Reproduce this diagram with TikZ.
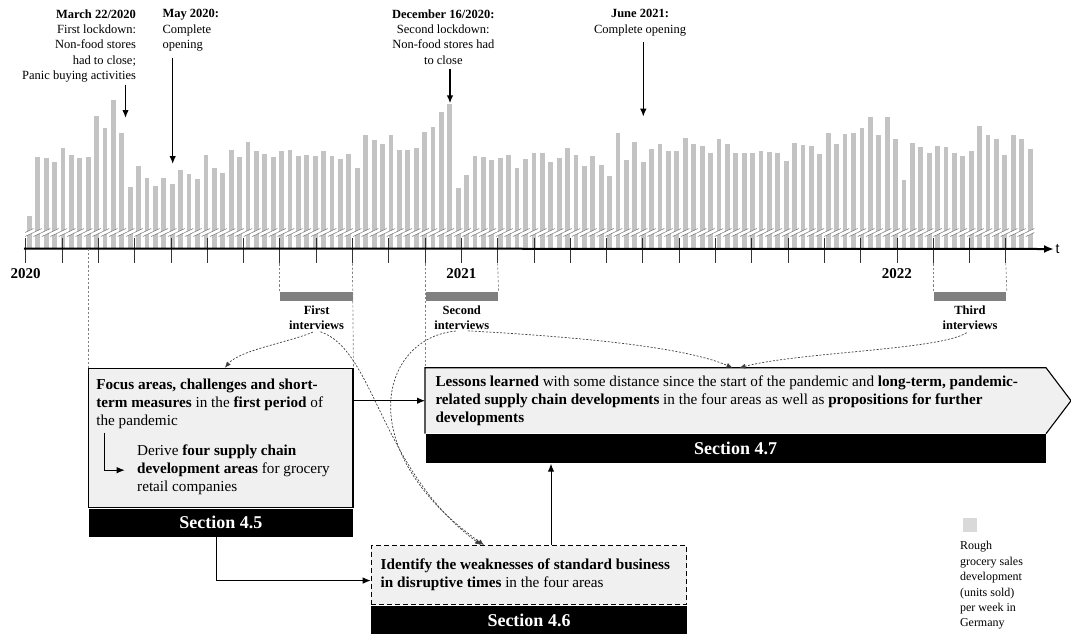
\documentclass[tikz,border=0pt]{standalone}
\usepackage{fontspec}
\setmainfont{Liberation Serif}
\newfontfamily\axisfont{Liberation Sans}
\usetikzlibrary{arrows.meta,positioning}

\definecolor{barGray}{HTML}{C3C3C3}
\definecolor{ivGray}{HTML}{808080}
\definecolor{boxGray}{HTML}{F0F0F0}
\definecolor{keyGray}{HTML}{D9D9D9}

\begin{document}
\begin{tikzpicture}[x=1pt, y=-1pt, >={Latex[length=8pt,width=6.5pt]}, line width=1pt]
\tikzstyle{note}=[inner sep=0pt, font=\fontsize{12.5}{15.3}\selectfont]
\tikzstyle{year}=[inner sep=0pt, font=\fontsize{15}{18}\selectfont\bfseries]
\tikzstyle{ivbar}=[fill=ivGray, inner sep=0pt, minimum width=72.6, minimum height=9.5]
\tikzstyle{ivlabel}=[inner sep=0pt, align=center, font=\fontsize{12.5}{15.2}\selectfont\bfseries]
\tikzstyle{box}=[draw, fill=boxGray, inner sep=0pt, line width=1.1pt]
\tikzstyle{boxtext}=[inner sep=0pt, anchor=north west, align=left, font=\fontsize{15.2}{18}\selectfont]
\tikzstyle{section}=[fill=black, text=white, inner sep=0pt, font=\fontsize{18}{20}\selectfont\bfseries]
\tikzstyle{guide}=[ivGray, line width=0.7pt, dash pattern=on 2.2pt off 2pt]
\tikzstyle{flow}=[black!75, line width=0.7pt, dash pattern=on 2pt off 1.6pt, >={Latex[length=6pt,width=5pt]}]
\tikzstyle{pointer}=[->, line width=1.4pt]

\useasboundingbox (0,0) rectangle (1071,633);

% weekly sales
\foreach \barTop [count=\wk] in {215.7,156.7,158.3,162.3,147.7,155,158.3,157.3,116,127.7,
  100,133.3,186.7,165.7,177.7,186,177.7,184.3,170,174,
  179,155,167.7,172.7,150,157.3,142.3,151,154.3,156.7,
  150.7,150,156,155,156,151,156,159.3,154,168.3,
  135,140,144.3,135,150,150,147.7,132,127.3,112,
  104,188.3,175,155.7,157.3,160,158.3,155,168.3,159,
  152.7,152.7,161.7,158.3,148.3,155,165.7,156,165,176,
  133.3,160,142.3,162.3,149.3,144,151,150.7,138.3,144.3,
  145.7,152.7,139.3,144,153.3,153.3,153.3,150.7,152.3,153.3,
  160.7,143.3,145,146,154,133.3,144.3,134,133.3,128.3,
  116.7,135.3,117.3,139,180,143.3,147,153.3,146,147,
  153.3,156,150.7,126,135,139.3,154.7,135,139,149.3}{
  \pgfmathsetmacro\bx{29.3+8.41*(\wk-1)}
  \fill[barGray] ({\bx-2.4},\barTop) rectangle ({\bx+2.4},247.5);
}
% axis break
\foreach \wk in {1,...,120}{
  \pgfmathsetmacro\bx{29.3+8.41*(\wk-1)}
  \fill[white] ({\bx-4.2},232.5) -- ({\bx+4.2},228.5) -- ({\bx+4.2},232.5) -- ({\bx-4.2},236.5) -- cycle;
  \draw[black!55, line width=0.5pt] ({\bx-4.2},232.5) -- ({\bx+4.2},228.5) ({\bx-4.2},236.5) -- ({\bx+4.2},232.5);
}
% months
\foreach \m in {0,...,27}{
  \coordinate (m\m) at ({25.7+36.3*\m},263.3);
  \draw[black!80, line width=0.8pt] ({25.7+36.3*\m},238) -- (m\m);
}

\coordinate (t0) at (24,248.5);
\node[inner sep=1pt, anchor=west, font=\axisfont\fontsize{14}{14}\selectfont] (tlab) at (1054,249) {t};
\draw[-{Latex[length=10pt,width=8pt]}, line width=2pt] (t0) -- (tlab.west);

\node[year] (y2020) at ([yshift=-10pt]m0) {2020};
\node[year] (y2021) at ([yshift=-10pt]m12) {2021};
\node[year] (y2022) at ([yshift=-10pt]m24) {2022};

% events
\node[note, align=right, anchor=north east] (march) at (136.5,9) {\textbf{March 22/2020}\\First lockdown:\\Non-food stores\\had to close;\\Panic buying activities};
\node[note, align=left, anchor=north west] (may) at (162,9) {\textbf{May 2020:}\\Complete\\opening};
\node[note, align=center, anchor=north] (dec) at (443.3,9) {\textbf{December 16/2020:}\\Second lockdown:\\Non-food stores had\\to close};
\node[note, align=center, anchor=north] (june) at (640,9) {\textbf{June 2021:}\\Complete opening};
\coordinate (marchtip) at (125.5,118);
\coordinate (maytip) at (172.7,164);
\coordinate (dectip) at (450,103.3);
\coordinate (junetip) at (643.3,116.7);
\draw[pointer, shorten <=2pt] (march.south -| marchtip) -- (marchtip);
\draw[pointer, shorten <=6pt] (may.south -| maytip) -- (maytip);
\draw[pointer, shorten <=4pt] (dec.south -| dectip) -- (dectip);
\draw[pointer, shorten <=6pt] (june.south -| junetip) -- (junetip);

% interviews
\node[ivbar, anchor=north west] (iv1) at ([yshift=-27.7pt]m7) {};
\node[ivbar, anchor=north west] (iv2) at ([yshift=-27.7pt]m11) {};
\node[ivbar, anchor=north west] (iv3) at ([yshift=-27.7pt]m25) {};
\node[ivlabel, below=4pt of iv1] (ivlab1) {First\\interviews};
\node[ivlabel, below=4pt of iv2] (ivlab2) {Second\\interviews};
\node[ivlabel, below=4pt of iv3] (ivlab3) {Third\\interviews};

% boxes
\node[box, anchor=north west, minimum width=264.1, minimum height=139.6] (focus) at (88.3,367.7) {};
\node[section, anchor=north, minimum width=264.1, minimum height=27.7] (sec45) at (focus.south) {Section 4.5};
\node[fill=boxGray, inner sep=0pt, anchor=north west, minimum width=620, minimum height=65] (lessons) at (m11 |- focus.north) {};
\node[section, anchor=north, minimum width=620, minimum height=29] (sec47) at (lessons.south) {Section 4.7};
\fill[boxGray] (lessons.north east) -- ([xshift=25pt]lessons.east) -- (lessons.south east) -- cycle;
\draw[line width=1.1pt] (lessons.south west) -- (lessons.north west) -- (lessons.north east) -- ([xshift=25pt]lessons.east) -- (lessons.south east);
\node[box, dash pattern=on 5pt off 3pt, anchor=north west, minimum width=315.5, minimum height=59] (weak) at (370.7,545) {};
\node[section, anchor=north, minimum width=315.5, minimum height=29] (sec46) at (weak.south) {Section 4.6};

\node[boxtext] (focustxt) at ([shift={(7.5,11)}]focus.north west) {\textbf{Focus areas, challenges and short-}\\\textbf{term measures} in the \textbf{first period} of\\the pandemic};
\node[boxtext] (derive) at ([shift={(48.4,77)}]focus.north west) {Derive \textbf{four supply chain}\\\textbf{development areas} for grocery\\retail companies};
\coordinate (elbow) at ([shift={(15.7,65)}]focus.north west);
\node[boxtext] (lessonstxt) at ([shift={(10,8)}]lessons.north west) {\textbf{Lessons learned} with some distance since the start of the pandemic and \textbf{long-term, pandemic-}\\\textbf{related supply chain developments} in the four areas as well as \textbf{propositions for further}\\\textbf{developments}};
\node[boxtext] (weaktxt) at ([shift={(9.5,13)}]weak.north west) {\textbf{Identify the weaknesses of standard business}\\\textbf{in disruptive times} in the four areas};

% guides
\draw[guide] (m7) -- (iv1.north west);
\draw[guide] (m13) -- (iv2.north east);
\draw[guide] (m25) -- (iv3.north west);
\draw[guide] (m27) -- (iv3.north east);
\draw[guide] (focus.north west |- t0) -- (focus.north west);
\draw[guide] (m9) -- (focus.north east);
\draw[guide] (m11) -- (lessons.north west);

% flows
\draw[->, shorten >=12pt] (elbow) |- (derive.west);
\draw[->] (lessons.west -| focus.east) -- (lessons.west);
\draw[->] ([xshift=-4pt]sec45.south) |- ([yshift=-5.5pt]weak.west);
\draw[->] ([xshift=22pt]weak.north) -- ([xshift=22pt]weak.north |- sec47.south);

\draw[flow, ->, shorten <=4pt] (ivlab1.south) .. controls (290,342) and (240,350) .. ([xshift=4pt]focus.north);
\draw[flow, ->, shorten <=4pt] (ivlab1.south) .. controls (375,350) and (380,470) .. ([xshift=-48pt]weak.north);
\draw[flow, ->, shorten <=6pt] (ivlab2.south) .. controls (380,338) and (350,450) .. ([xshift=-45pt]weak.north);
\draw[flow, ->, shorten <=6pt] (ivlab2.south) .. controls (560,336) and (680,345) .. ([xshift=-3pt]lessons.north);
\draw[flow, ->, shorten <=4pt] (ivlab3.south) .. controls (940,350) and (800,352) .. ([xshift=4pt]lessons.north);

% legend
\node[fill=keyGray, inner sep=0pt, minimum size=14] (key) at (970,525) {};
\node[note, align=left, anchor=north west, font=\fontsize{12}{15.4}\selectfont] (keytxt) at (959.5,541) {Rough\\grocery sales\\development\\(units sold)\\per week in\\Germany};
\end{tikzpicture}
\end{document}
